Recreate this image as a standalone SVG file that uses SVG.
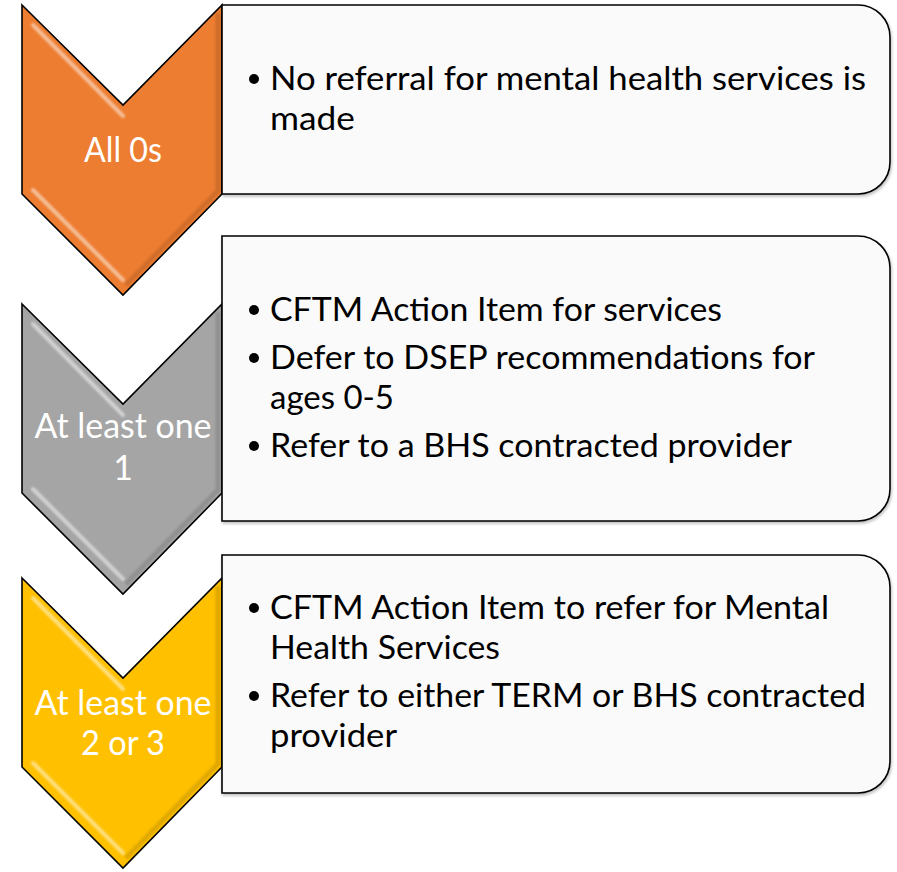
<svg xmlns="http://www.w3.org/2000/svg" width="897" height="872" viewBox="0 0 897 872">
  <style>
    .chev { stroke: #000; stroke-width: 1.6; stroke-linejoin: miter; }
    .hl { fill: none; stroke: #fff; stroke-width: 4; stroke-linecap: round; opacity: 0.5; filter: url(#soft); }
    .sh { fill: none; stroke: #000; stroke-width: 5; opacity: 0.12; filter: url(#soft); }
    .box { fill: #fafafa; stroke: #000; stroke-width: 1.6; filter: url(#drop); }
    .ctext { font-family: "Lato", "Open Sans", "Liberation Sans", sans-serif; font-size: 34px; fill: #fff; text-anchor: middle; }
    .btext { font-family: "Lato", "Open Sans", "Liberation Sans", sans-serif; font-size: 32px; fill: #000; }
  </style>
  <defs>
    <filter id="soft" x="-20%" y="-20%" width="140%" height="140%">
      <feGaussianBlur stdDeviation="1.3"/>
    </filter>
    <filter id="drop" x="-5%" y="-5%" width="110%" height="115%">
      <feGaussianBlur in="SourceAlpha" stdDeviation="1.5" result="b"/>
      <feOffset dx="1" dy="2" result="o"/>
      <feComponentTransfer in="o" result="s"><feFuncA type="linear" slope="0.25"/></feComponentTransfer>
      <feMerge><feMergeNode in="s"/><feMergeNode in="SourceGraphic"/></feMerge>
    </filter>
    <!-- chevron outline, origin at its top-left corner -->
    <path id="chevron" d="M0,0 L101,100 L200,0 L200,189 L101,290 L0,189 Z"/>
    <!-- bevel highlights and right-side shading -->
    <g id="bevel">
      <path class="hl" d="M11,20 L101,111"/>
      <path class="hl" d="M11,185 L101,275"/>
      <path class="sh" d="M196,8 L196,186 L104,280"/>
    </g>
  </defs>

  <!-- chevrons -->
  <g id="chevron-all0">
    <g transform="translate(22,5)">
      <use href="#chevron" class="chev" fill="#ed7d31"/>
      <use href="#bevel"/>
    </g>
    <text class="ctext" x="123" y="162" textLength="78" lengthAdjust="spacingAndGlyphs">All 0s</text>
  </g>

  <g id="chevron-one1">
    <g transform="translate(22,304)">
      <use href="#chevron" class="chev" fill="#a5a5a5"/>
      <use href="#bevel"/>
    </g>
    <text class="ctext" x="123" y="438" textLength="177" lengthAdjust="spacingAndGlyphs">At least one</text>
    <text class="ctext" x="123" y="480">1</text>
  </g>

  <g id="chevron-one23">
    <g transform="translate(22,578)">
      <use href="#chevron" class="chev" fill="#ffc000"/>
      <use href="#bevel"/>
    </g>
    <text class="ctext" x="123" y="715" textLength="177" lengthAdjust="spacingAndGlyphs">At least one</text>
    <text class="ctext" x="123" y="755" textLength="84" lengthAdjust="spacingAndGlyphs">2 or 3</text>
  </g>

  <!-- panels -->
  <g id="panel-all0">
    <path class="box" d="M222,5 H858 A32,32 0 0 1 890,37 V162 A32,32 0 0 1 858,194 H222 Z"/>
    <circle cx="254" cy="79" r="5"/>
    <text class="btext" x="270" y="90" textLength="596" lengthAdjust="spacingAndGlyphs">No referral for mental health services is</text>
    <text class="btext" x="270" y="130" textLength="85" lengthAdjust="spacingAndGlyphs">made</text>
  </g>

  <g id="panel-one1">
    <path class="box" d="M222,236 H858 A32,32 0 0 1 890,268 V489 A32,32 0 0 1 858,521 H222 Z"/>
    <circle cx="254" cy="310" r="5"/>
    <text class="btext" x="270" y="321" textLength="452" lengthAdjust="spacingAndGlyphs">CFTM Action Item for services</text>
    <circle cx="254" cy="358" r="5"/>
    <text class="btext" x="270" y="369" textLength="545" lengthAdjust="spacingAndGlyphs">Defer to DSEP recommendations for</text>
    <text class="btext" x="270" y="409" textLength="124" lengthAdjust="spacingAndGlyphs">ages 0-5</text>
    <circle cx="254" cy="446" r="5"/>
    <text class="btext" x="270" y="457" textLength="522" lengthAdjust="spacingAndGlyphs">Refer to a BHS contracted provider</text>
  </g>

  <g id="panel-one23">
    <path class="box" d="M222,555 H858 A32,32 0 0 1 890,587 V761 A32,32 0 0 1 858,793 H222 Z"/>
    <circle cx="254" cy="608" r="5"/>
    <text class="btext" x="270" y="619" textLength="559" lengthAdjust="spacingAndGlyphs">CFTM Action Item to refer for Mental</text>
    <text class="btext" x="270" y="659" textLength="230" lengthAdjust="spacingAndGlyphs">Health Services</text>
    <circle cx="254" cy="696" r="5"/>
    <text class="btext" x="270" y="707" textLength="596" lengthAdjust="spacingAndGlyphs">Refer to either TERM or BHS contracted</text>
    <text class="btext" x="270" y="747" textLength="127" lengthAdjust="spacingAndGlyphs">provider</text>
  </g>
</svg>
